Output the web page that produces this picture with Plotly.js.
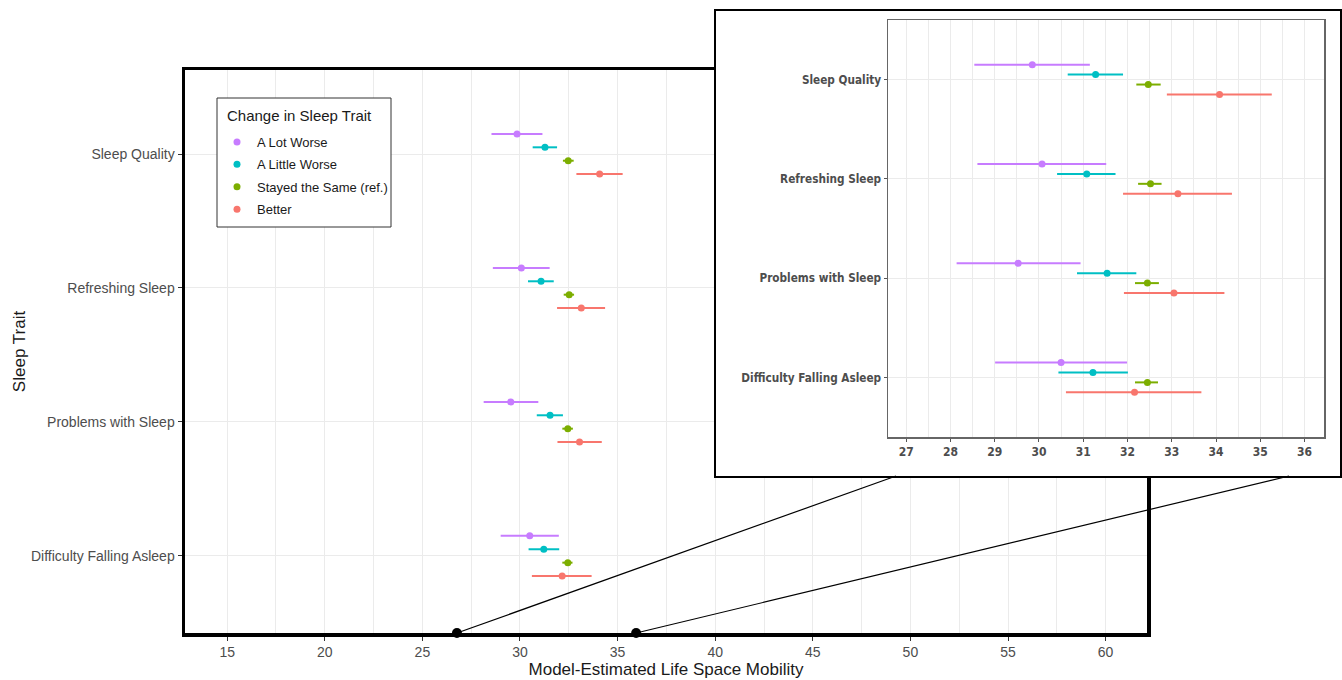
<!DOCTYPE html>
<html>
<head>
<meta charset="utf-8">
<script src="https://cdn.plot.ly/plotly-3.0.1.min.js"></script>
<style>
html,body{margin:0;padding:0;background:#fff;}
#chart{width:1342px;height:680px;}
</style>
</head>
<body>
<div id="chart"></div>
<script>
// ---------------- data ----------------
const categories = ['Sleep Quality', 'Refreshing Sleep', 'Problems with Sleep', 'Difficulty Falling Asleep'];
const groups = ['A Lot Worse', 'A Little Worse', 'Stayed the Same (ref.)', 'Better'];
const groupColors = ['#C77CFF', '#00BFC4', '#7CAE00', '#F8766D'];
const legendTitle = 'Change in Sleep Trait';

const aLotWorseEst   = [29.85, 30.07, 29.53, 30.50];
const aLotWorseLow   = [28.54, 28.61, 28.14, 29.01];
const aLotWorseHigh  = [31.15, 31.52, 30.94, 31.99];

const aLittleWorseEst  = [31.28, 31.08, 31.54, 31.22];
const aLittleWorseLow  = [30.65, 30.41, 30.86, 30.44];
const aLittleWorseHigh = [31.90, 31.73, 32.20, 32.01];

const sameEst  = [32.47, 32.52, 32.45, 32.45];
const sameLow  = [32.20, 32.24, 32.17, 32.17];
const sameHigh = [32.75, 32.77, 32.71, 32.69];

const betterEst  = [34.08, 33.14, 33.05, 32.16];
const betterLow  = [32.89, 31.90, 31.92, 30.61];
const betterHigh = [35.26, 34.36, 34.19, 33.67];

const mainTicks = [15, 20, 25, 30, 35, 40, 45, 50, 55, 60];
const insetTicks = [27, 28, 29, 30, 31, 32, 33, 34, 35, 36];
const zoomRange = [26.77, 35.95];   // region of the main axis magnified in the inset

// ---------------- layout helpers ----------------
const W = 1342, H = 680;
const px = v => v / W;
const py = v => 1 - v / H;

const mainBox  = {l: 185, r: 1147, t: 70, b: 633};
const mainXR   = [12.84, 62.12];
const mainYR   = [0.425, 4.627];
const coverBox = {l: 716, r: 1340, t: 11, b: 476};
const insetBox = {l: 888, r: 1324, t: 20, b: 437};
const insetXR  = [26.59, 36.44];
const insetYR  = [0.40, 4.60];
const legendBox = {l: 217, r: 391, t: 98, b: 227};
const dodge = 0.1;

const series = [
  {est: aLotWorseEst, lo: aLotWorseLow, hi: aLotWorseHigh},
  {est: aLittleWorseEst, lo: aLittleWorseLow, hi: aLittleWorseHigh},
  {est: sameEst, lo: sameLow, hi: sameHigh},
  {est: betterEst, lo: betterLow, hi: betterHigh}
];
const nCat = categories.length;
const catPos = categories.map((c, i) => nCat - i);

const traces = [];
function addTraces(xa, ya, showLegend, msize, thick) {
  series.forEach((s, g) => {
    const off = (1.5 - g) * dodge;
    traces.push({
      type: 'scatter', mode: 'markers',
      name: groups[g], legendgroup: 'g' + g, showlegend: showLegend,
      x: s.est, y: catPos.map(p => p + off),
      xaxis: xa, yaxis: ya,
      marker: {color: groupColors[g], size: msize},
      error_x: {type: 'data', symmetric: false,
        array: s.hi.map((h, i) => h - s.est[i]),
        arrayminus: s.lo.map((l, i) => s.est[i] - l),
        width: 0, thickness: thick, color: groupColors[g]},
      hoverinfo: 'x+name'
    });
  });
}
addTraces('x', 'y', true, 7, 2);

// zoom markers on main axis
traces.push({type: 'scatter', mode: 'markers', x: zoomRange, y: [mainYR[0], mainYR[0]],
  xaxis: 'x', yaxis: 'y', cliponaxis: false, showlegend: false, hoverinfo: 'skip',
  marker: {color: '#000', size: 10}});
// cover panel (white box behind inset)
traces.push({type: 'scatter', x: [], y: [], xaxis: 'x2', yaxis: 'y2', showlegend: false, hoverinfo: 'skip'});
addTraces('x3', 'y3', false, 7, 2);

function mainXpx(v) { return mainBox.l + (v - mainXR[0]) / (mainXR[1] - mainXR[0]) * (mainBox.r - mainBox.l); }
const connectorEnds = [896, 1289];

const gridCol = '#EBEBEB';
const font = 'Liberation Sans, Arial, sans-serif';
const narrow = 'Liberation Sans Narrow, DejaVu Sans Condensed, Arial Narrow, sans-serif';

const shapes = zoomRange.map((v, i) => ({
  type: 'line', xref: 'paper', yref: 'paper', layer: 'above',
  x0: px(mainXpx(v)), y0: py(mainBox.b),
  x1: px(connectorEnds[i]), y1: py(coverBox.b),
  line: {color: '#000', width: 1.2}
}));
shapes.push({
  type: 'rect', xref: 'paper', yref: 'paper', layer: 'above',
  x0: px(legendBox.l), x1: px(legendBox.r), y0: py(legendBox.b), y1: py(legendBox.t),
  fillcolor: '#fff', line: {color: '#333', width: 1}
});

const layout = {
  width: W, height: H,
  margin: {l: 0, r: 0, t: 0, b: 0},
  paper_bgcolor: '#fff', plot_bgcolor: '#fff',
  font: {family: font, color: '#4D4D4D'},
  showlegend: true,
  legend: {
    x: px(legendBox.l), y: py(legendBox.t + 29), xanchor: 'left', yanchor: 'top',
    bgcolor: 'rgba(0,0,0,0)', borderwidth: 0,
    tracegroupgap: 2.5,
    font: {size: 13, color: '#1a1a1a', family: font},
    itemclick: false
  },
  annotations: [{
    text: legendTitle, xref: 'paper', yref: 'paper', showarrow: false,
    x: px(legendBox.l + 8), y: py(legendBox.t + 17), xanchor: 'left', yanchor: 'middle',
    font: {size: 15, color: '#1a1a1a', family: font}
  }],
  xaxis: {
    domain: [px(mainBox.l), px(mainBox.r)], range: mainXR, anchor: 'y',
    tickvals: mainTicks, ticks: 'outside', ticklen: 4, tickcolor: '#333',
    tickfont: {size: 14, color: '#4D4D4D'},
    showgrid: true, gridcolor: gridCol, gridwidth: 1,
    minor: {dtick: 2.5, tick0: 0, showgrid: true, gridcolor: gridCol, gridwidth: 1, ticks: ''},
    showline: true, mirror: true, linecolor: '#000', linewidth: 3.5, zeroline: false,
    title: {text: 'Model-Estimated Life Space Mobility', font: {size: 17, color: '#1a1a1a'}, standoff: 4}
  },
  yaxis: {
    domain: [py(mainBox.b), py(mainBox.t)], range: mainYR, anchor: 'x',
    tickvals: catPos, ticktext: categories, ticks: 'outside', ticklen: 4, tickcolor: '#333',
    tickfont: {size: 14, color: '#4D4D4D'},
    showgrid: true, gridcolor: gridCol, gridwidth: 1, zeroline: false,
    showline: true, mirror: true, linecolor: '#000', linewidth: 3.5,
    title: {text: 'Sleep Trait', font: {size: 17, color: '#1a1a1a'}, standoff: 2}
  },
  xaxis2: {
    domain: [px(coverBox.l), px(coverBox.r)], range: [0, 1], anchor: 'y2',
    showgrid: false, zeroline: false, showticklabels: false, ticks: '',
    showline: true, mirror: true, linecolor: '#000', linewidth: 2, fixedrange: true
  },
  yaxis2: {
    domain: [py(coverBox.b), py(coverBox.t)], range: [0, 1], anchor: 'x2',
    showgrid: false, zeroline: false, showticklabels: false, ticks: '',
    showline: true, mirror: true, linecolor: '#000', linewidth: 2, fixedrange: true
  },
  xaxis3: {
    domain: [px(insetBox.l), px(insetBox.r)], range: insetXR, anchor: 'y3',
    tickvals: insetTicks, ticks: 'outside', ticklen: 3, tickcolor: '#555',
    tickfont: {size: 12, color: '#4D4D4D', family: narrow, weight: 'bold'},
    showgrid: true, gridcolor: gridCol, gridwidth: 1,
    minor: {dtick: 0.5, tick0: 0, showgrid: true, gridcolor: gridCol, gridwidth: 1, ticks: ''},
    showline: true, mirror: true, linecolor: '#666', linewidth: 1.5, zeroline: false
  },
  yaxis3: {
    domain: [py(insetBox.b), py(insetBox.t)], range: insetYR, anchor: 'x3',
    tickvals: catPos, ticktext: categories, ticks: 'outside', ticklen: 3, tickcolor: '#555',
    tickfont: {size: 11.7, color: '#4D4D4D', family: narrow, weight: 'bold'},
    showgrid: true, gridcolor: gridCol, gridwidth: 1, zeroline: false,
    showline: true, mirror: true, linecolor: '#666', linewidth: 1.5
  },
  shapes: shapes
};

Plotly.newPlot('chart', traces, layout, {displayModeBar: false, staticPlot: true});
</script>
</body>
</html>
